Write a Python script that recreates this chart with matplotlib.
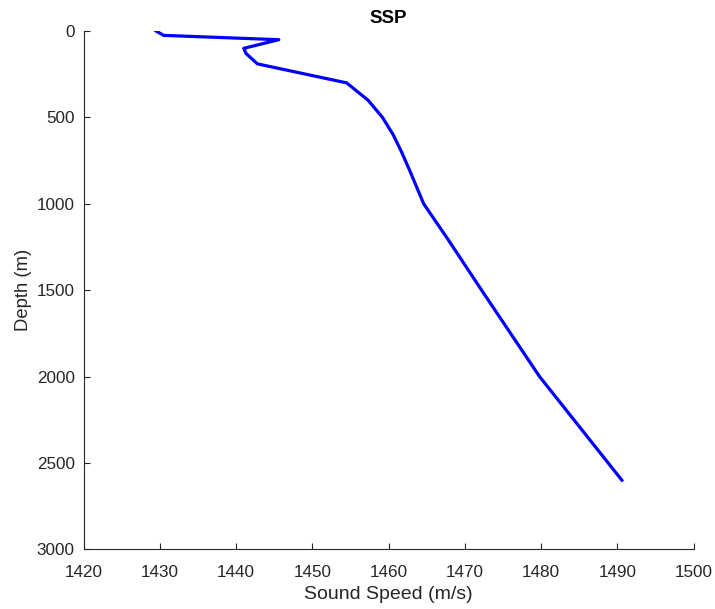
import numpy as np
import matplotlib.pyplot as plt

plt.rcParams['font.family'] = ['Liberation Sans', 'DejaVu Sans']

# sound speed profile
depth = [0, 25, 50, 100, 130, 190, 300, 400, 500, 600, 700, 800, 1000, 1200, 1500, 2000, 2600]
speed = [1429.5, 1430.5, 1445.6, 1441.0, 1441.3, 1442.8, 1454.5, 1457.3, 1459.2,
         1460.6, 1461.7, 1462.7, 1464.6, 1467.7, 1472.2, 1479.8, 1490.6]

fig = plt.figure(figsize=(7.15, 6.09), dpi=100)
ax = fig.add_axes([0.117, 0.098, 0.853, 0.851])

ax.plot(speed, depth, color='#0000ff', linewidth=2.3)

ax.set_xlim(1420, 1500)
ax.set_ylim(3000, 0)
ax.set_xticks(np.arange(1420, 1501, 10))
ax.set_yticks(np.arange(0, 3001, 500))

ax.spines['top'].set_visible(False)
ax.spines['right'].set_visible(False)
for s in ('left', 'bottom'):
    ax.spines[s].set_color('#262626')
    ax.spines[s].set_linewidth(0.8)
ax.tick_params(direction='in', length=4, width=0.8, colors='#262626', labelsize=12.3)
ax.tick_params(axis='x', pad=11.5)
ax.tick_params(axis='y', pad=6.5)

ax.set_xlabel('Sound Speed (m/s)', fontsize=14, color='#262626', labelpad=4)
ax.set_ylabel('Depth (m)', fontsize=13.3, color='#262626', labelpad=3)
ax.set_title('SSP', fontsize=13.5, fontweight='bold', pad=6)

fig.savefig('out.png', dpi=100)
